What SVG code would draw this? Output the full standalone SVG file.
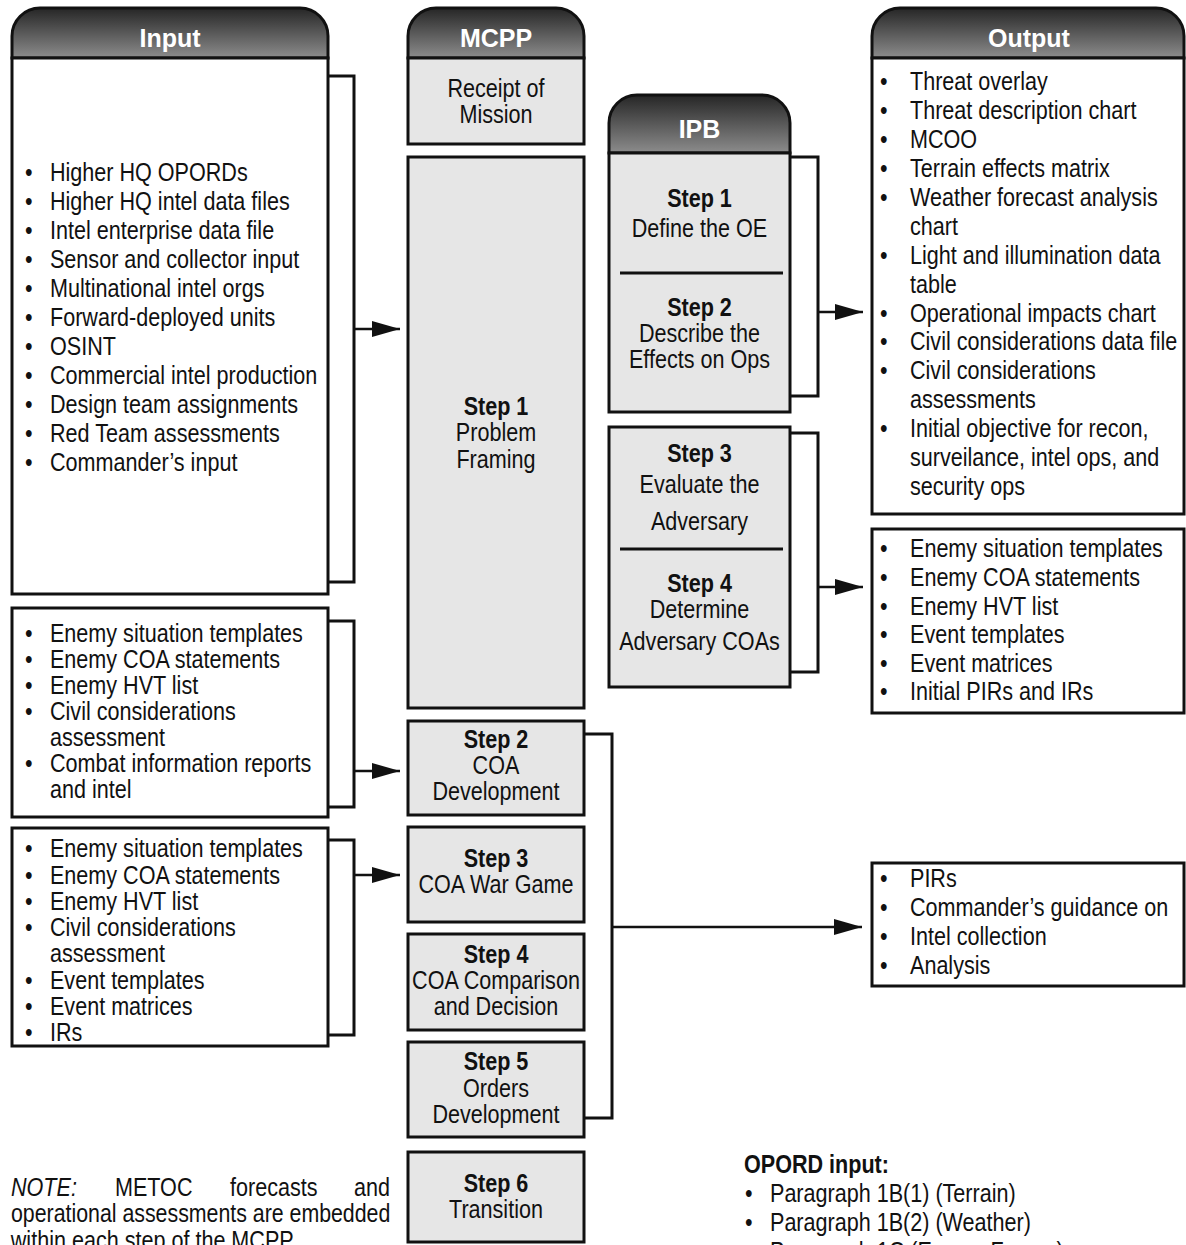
<svg xmlns="http://www.w3.org/2000/svg" width="1186" height="1245" viewBox="0 0 1186 1245">
<style>
.hdr{stroke:#111;stroke-width:3;fill:url(#hg)}
.ttl{font-family:"Liberation Sans",Arial,sans-serif;font-weight:bold;font-size:25px;fill:#fff;text-anchor:middle}
.wbox{fill:#fff;stroke:#111;stroke-width:3}
.gbox{fill:#e6e6e6;stroke:#111;stroke-width:3}
.t{font-family:"Liberation Sans",Arial,sans-serif;font-size:26px;fill:#111;transform-box:fill-box;transform-origin:0 50%;transform:scaleX(0.83)}
.c{text-anchor:middle;transform-origin:50% 50%}
.e{text-anchor:end;transform-origin:100% 50%}
.b{font-weight:bold}
.br{fill:none;stroke:#111;stroke-width:3}
.ar{stroke:#111;stroke-width:2.5;fill:none;marker-end:url(#ah)}
.dv{stroke:#111;stroke-width:3}
</style>
<defs>
<linearGradient id="hg" x1="0" y1="0" x2="0" y2="1">
<stop offset="0" stop-color="#262626"/>
<stop offset="1" stop-color="#8c8c8c"/>
</linearGradient>
<marker id="ah" markerUnits="userSpaceOnUse" markerWidth="30" markerHeight="18" refX="28" refY="8" orient="auto">
<path d="M0,0 L28,8 L0,16 Z" fill="#111"/>
</marker>
</defs>

<g id="input-main">
<path class="hdr" d="M12,58 V36 A28,28 0 0 1 40,8 H300 A28,28 0 0 1 328,36 V58 Z"/>
<text class="ttl" x="170" y="47">Input</text>
<rect class="wbox" x="12" y="58" width="316" height="536"/>
<text class="t" x="25" y="181">•</text><text class="t" x="50" y="181">Higher HQ OPORDs</text>
<text class="t" x="25" y="210">•</text><text class="t" x="50" y="210">Higher HQ intel data files</text>
<text class="t" x="25" y="239">•</text><text class="t" x="50" y="239">Intel enterprise data file</text>
<text class="t" x="25" y="268">•</text><text class="t" x="50" y="268">Sensor and collector input</text>
<text class="t" x="25" y="297">•</text><text class="t" x="50" y="297">Multinational intel orgs</text>
<text class="t" x="25" y="326">•</text><text class="t" x="50" y="326">Forward-deployed units</text>
<text class="t" x="25" y="355">•</text><text class="t" x="50" y="355">OSINT</text>
<text class="t" x="25" y="384">•</text><text class="t" x="50" y="384">Commercial intel production</text>
<text class="t" x="25" y="413">•</text><text class="t" x="50" y="413">Design team assignments</text>
<text class="t" x="25" y="442">•</text><text class="t" x="50" y="442">Red Team assessments</text>
<text class="t" x="25" y="471">•</text><text class="t" x="50" y="471">Commander’s input</text>
</g>

<g id="input-coa-dev">
<rect class="wbox" x="12" y="608" width="316" height="209"/>
<text class="t" x="25" y="642">•</text><text class="t" x="50" y="642">Enemy situation templates</text>
<text class="t" x="25" y="668">•</text><text class="t" x="50" y="668">Enemy COA statements</text>
<text class="t" x="25" y="694">•</text><text class="t" x="50" y="694">Enemy HVT list</text>
<text class="t" x="25" y="720">•</text><text class="t" x="50" y="720">Civil considerations</text>
<text class="t" x="50" y="746">assessment</text>
<text class="t" x="25" y="772">•</text><text class="t" x="50" y="772">Combat information reports</text>
<text class="t" x="50" y="798">and intel</text>
</g>

<g id="input-wargame">
<rect class="wbox" x="12" y="828" width="316" height="218"/>
<text class="t" x="25" y="857">•</text><text class="t" x="50" y="857">Enemy situation templates</text>
<text class="t" x="25" y="884">•</text><text class="t" x="50" y="884">Enemy COA statements</text>
<text class="t" x="25" y="910">•</text><text class="t" x="50" y="910">Enemy HVT list</text>
<text class="t" x="25" y="936">•</text><text class="t" x="50" y="936">Civil considerations</text>
<text class="t" x="50" y="962">assessment</text>
<text class="t" x="25" y="989">•</text><text class="t" x="50" y="989">Event templates</text>
<text class="t" x="25" y="1015">•</text><text class="t" x="50" y="1015">Event matrices</text>
<text class="t" x="25" y="1041">•</text><text class="t" x="50" y="1041">IRs</text>
</g>

<g id="mcpp-header">
<path class="hdr" d="M408,58 V36 A28,28 0 0 1 436,8 H556 A28,28 0 0 1 584,36 V58 Z"/>
<text class="ttl" x="496" y="47">MCPP</text>
</g>
<g id="mcpp-receipt">
<rect class="gbox" x="408" y="58" width="176" height="86"/>
<text class="t c" x="496" y="97">Receipt of</text>
<text class="t c" x="496" y="123">Mission</text>
</g>
<g id="mcpp-step1">
<rect class="gbox" x="408" y="157" width="176" height="551"/>
<text class="t c b" x="496" y="415">Step 1</text>
<text class="t c" x="496" y="441">Problem</text>
<text class="t c" x="496" y="468">Framing</text>
</g>
<g id="mcpp-step2">
<rect class="gbox" x="408" y="721" width="176" height="94"/>
<text class="t c b" x="496" y="748">Step 2</text>
<text class="t c" x="496" y="774">COA</text>
<text class="t c" x="496" y="800">Development</text>
</g>
<g id="mcpp-step3">
<rect class="gbox" x="408" y="827" width="176" height="95"/>
<text class="t c b" x="496" y="867">Step 3</text>
<text class="t c" x="496" y="893">COA War Game</text>
</g>
<g id="mcpp-step4">
<rect class="gbox" x="408" y="934" width="176" height="96"/>
<text class="t c b" x="496" y="963">Step 4</text>
<text class="t c" x="496" y="989">COA Comparison</text>
<text class="t c" x="496" y="1015">and Decision</text>
</g>
<g id="mcpp-step5">
<rect class="gbox" x="408" y="1042" width="176" height="95"/>
<text class="t c b" x="496" y="1070">Step 5</text>
<text class="t c" x="496" y="1097">Orders</text>
<text class="t c" x="496" y="1123">Development</text>
</g>
<g id="mcpp-step6">
<rect class="gbox" x="408" y="1152" width="176" height="90"/>
<text class="t c b" x="496" y="1192">Step 6</text>
<text class="t c" x="496" y="1218">Transition</text>
</g>

<g id="ipb-header">
<path class="hdr" d="M609,153 V123 A28,28 0 0 1 637,95 H762 A28,28 0 0 1 790,123 V153 Z"/>
<text class="ttl" x="699.5" y="138">IPB</text>
</g>
<g id="ipb-steps12">
<rect class="gbox" x="609" y="153" width="181" height="259"/>
<text class="t c b" x="699.5" y="207">Step 1</text>
<text class="t c" x="699.5" y="237">Define the OE</text>
<line class="dv" x1="620" y1="273" x2="783" y2="273"/>
<text class="t c b" x="699.5" y="316">Step 2</text>
<text class="t c" x="699.5" y="342">Describe the</text>
<text class="t c" x="699.5" y="368">Effects on Ops</text>
</g>
<g id="ipb-steps34">
<rect class="gbox" x="609" y="427" width="181" height="260"/>
<text class="t c b" x="699.5" y="462">Step 3</text>
<text class="t c" x="699.5" y="493">Evaluate the</text>
<text class="t c" x="699.5" y="530">Adversary</text>
<line class="dv" x1="620" y1="549" x2="783" y2="549"/>
<text class="t c b" x="699.5" y="592">Step 4</text>
<text class="t c" x="699.5" y="618">Determine</text>
<text class="t c" x="699.5" y="650">Adversary COAs</text>
</g>

<g id="output-main">
<path class="hdr" d="M872,58 V36 A28,28 0 0 1 900,8 H1156 A28,28 0 0 1 1184,36 V58 Z"/>
<text class="ttl" x="1029" y="47">Output</text>
<rect class="wbox" x="872" y="58" width="312" height="456"/>
<text class="t" x="880" y="90">•</text><text class="t" x="910" y="90">Threat overlay</text>
<text class="t" x="880" y="119">•</text><text class="t" x="910" y="119">Threat description chart</text>
<text class="t" x="880" y="148">•</text><text class="t" x="910" y="148">MCOO</text>
<text class="t" x="880" y="177">•</text><text class="t" x="910" y="177">Terrain effects matrix</text>
<text class="t" x="880" y="206">•</text><text class="t" x="910" y="206">Weather forecast analysis</text>
<text class="t" x="910" y="235">chart</text>
<text class="t" x="880" y="264">•</text><text class="t" x="910" y="264">Light and illumination data</text>
<text class="t" x="910" y="293">table</text>
<text class="t" x="880" y="322">•</text><text class="t" x="910" y="322">Operational impacts chart</text>
<text class="t" x="880" y="350">•</text><text class="t" x="910" y="350">Civil considerations data file</text>
<text class="t" x="880" y="379">•</text><text class="t" x="910" y="379">Civil considerations</text>
<text class="t" x="910" y="408">assessments</text>
<text class="t" x="880" y="437">•</text><text class="t" x="910" y="437">Initial objective for recon,</text>
<text class="t" x="910" y="466">surveilance, intel ops, and</text>
<text class="t" x="910" y="495">security ops</text>
</g>

<g id="output-coa">
<rect class="wbox" x="872" y="529" width="312" height="184"/>
<text class="t" x="880" y="557">•</text><text class="t" x="910" y="557">Enemy situation templates</text>
<text class="t" x="880" y="586">•</text><text class="t" x="910" y="586">Enemy COA statements</text>
<text class="t" x="880" y="615">•</text><text class="t" x="910" y="615">Enemy HVT list</text>
<text class="t" x="880" y="643">•</text><text class="t" x="910" y="643">Event templates</text>
<text class="t" x="880" y="672">•</text><text class="t" x="910" y="672">Event matrices</text>
<text class="t" x="880" y="700">•</text><text class="t" x="910" y="700">Initial PIRs and IRs</text>
</g>

<g id="output-pirs">
<rect class="wbox" x="872" y="863" width="312" height="123"/>
<text class="t" x="880" y="887">•</text><text class="t" x="910" y="887">PIRs</text>
<text class="t" x="880" y="916">•</text><text class="t" x="910" y="916">Commander’s guidance on</text>
<text class="t" x="880" y="945">•</text><text class="t" x="910" y="945">Intel collection</text>
<text class="t" x="880" y="974">•</text><text class="t" x="910" y="974">Analysis</text>
</g>

<g id="note">
<text class="t" x="11" y="1196" font-style="italic">NOTE:</text>
<text class="t" x="115" y="1196">METOC</text>
<text class="t" x="230" y="1196">forecasts</text>
<text class="t e" x="390" y="1196">and</text>
<text class="t" x="11" y="1222" textLength="457" lengthAdjust="spacingAndGlyphs">operational assessments are embedded</text>
<text class="t" x="11" y="1249">within each step of the MCPP.</text>
</g>

<g id="opord">
<text class="t b" x="744" y="1173">OPORD input:</text>
<text class="t" x="745" y="1202">•</text><text class="t" x="770" y="1202">Paragraph 1B(1) (Terrain)</text>
<text class="t" x="745" y="1231">•</text><text class="t" x="770" y="1231">Paragraph 1B(2) (Weather)</text>
<text class="t" x="745" y="1260">•</text><text class="t" x="770" y="1260">Paragraph 1C (Enemy Forces)</text>
</g>

<g id="connectors">
<polyline class="br" points="328,76 354,76 354,582 328,582"/>
<line class="ar" x1="354" y1="329" x2="400" y2="329"/>
<polyline class="br" points="328,621 354,621 354,807 328,807"/>
<line class="ar" x1="354" y1="771" x2="400" y2="771"/>
<polyline class="br" points="328,840 354,840 354,1035 328,1035"/>
<line class="ar" x1="354" y1="875" x2="400" y2="875"/>
<polyline class="br" points="790,157 818,157 818,396 790,396"/>
<line class="ar" x1="818" y1="312" x2="863" y2="312"/>
<polyline class="br" points="790,433 818,433 818,672 790,672"/>
<line class="ar" x1="818" y1="587" x2="863" y2="587"/>
<polyline class="br" points="584,734 612,734 612,1118 584,1118"/>
<line class="ar" x1="612" y1="927" x2="862" y2="927"/>
</g>
</svg>
